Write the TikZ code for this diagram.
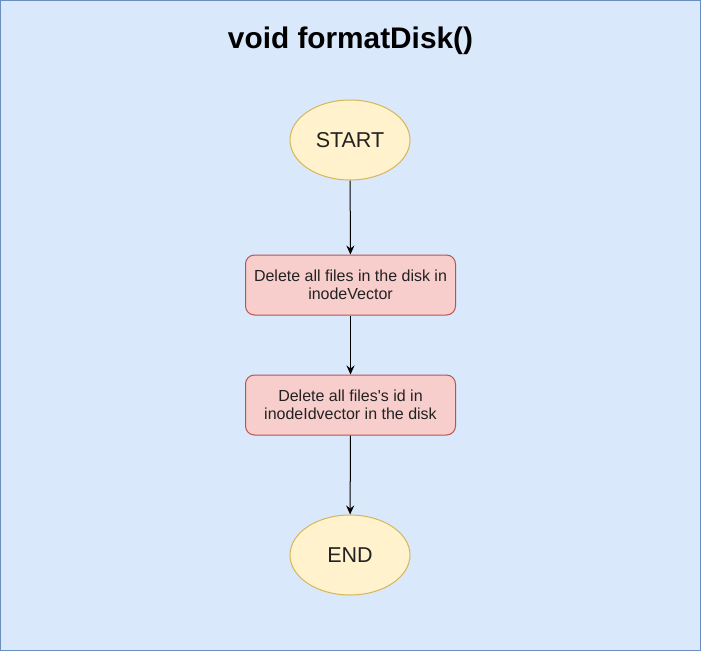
\documentclass[tikz,border=0pt]{standalone}
\usepackage{fontspec}
\setmainfont{Liberation Sans}
\usetikzlibrary{arrows.meta,shapes.geometric}
\definecolor{bgfill}{HTML}{DAE8FC}
\definecolor{bgline}{HTML}{6C8EBF}
\definecolor{elfill}{HTML}{FFF2CC}
\definecolor{elline}{HTML}{D6B656}
\definecolor{bxfill}{HTML}{F8CECC}
\definecolor{bxline}{HTML}{B85450}
\definecolor{txt}{HTML}{222222}
\tikzset{
  terminal/.style={ellipse, draw=elline, fill=elfill, line width=1pt,
    minimum width=120pt, minimum height=80pt, inner sep=0pt,
    font=\fontsize{21.5}{25}\selectfont, text=txt},
  process/.style={rectangle, rounded corners=9pt, draw=bxline, fill=bxfill, line width=1pt,
    minimum width=210pt, minimum height=60pt, inner sep=0pt, align=center,
    font=\fontsize{16}{18.4}\selectfont, text=txt},
  flow/.style={line width=1pt, -{Stealth[length=9pt,width=8pt,inset=3pt]}},
}
\begin{document}
\begin{tikzpicture}[x=1pt,y=-1pt]
\useasboundingbox (0,0) rectangle (701,651);
\draw[fill=bgfill, draw=bgline, line width=1.2pt] (0.6,0.6) rectangle (700.4,650.4);
\node[font=\bfseries\fontsize{29.8}{34}\selectfont, anchor=base] (title) at (350.5,48) {void formatDisk()};
\node[terminal] (start) at (350,140) {START};
\node[process] (p1) at (350.5,285) {Delete all files in the disk in\\inodeVector};
\node[process] (p2) at (350.5,405) {Delete all files\textquotesingle s id in\\inodeIdvector in the disk};
\node[terminal] (end) at (350,555) {END};
\draw[flow] (start) -- (p1);
\draw[flow] (p1) -- (p2);
\draw[flow] (p2) -- (end);
\end{tikzpicture}
\end{document}
